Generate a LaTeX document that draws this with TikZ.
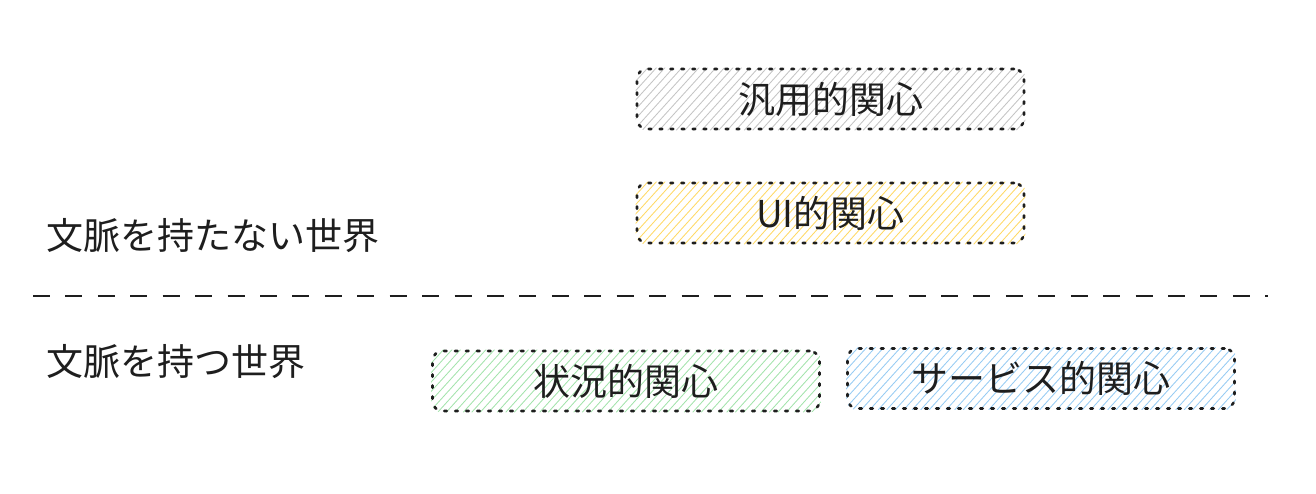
\documentclass[tikz,border=0pt]{standalone}
\usepackage{fontspec}
\newfontfamily\jp{Noto Sans CJK JP}
\usetikzlibrary{calc}
\definecolor{ink}{HTML}{1E1E1E}
\definecolor{hgray}{HTML}{C4C4C4}
\definecolor{hyellow}{HTML}{FFD966}
\definecolor{hgreen}{HTML}{A3E3AC}
\definecolor{hblue}{HTML}{96CBF3}
\tikzset{
  concern/.style={rounded corners=10pt, draw=ink, line width=2.6pt,
    dash pattern=on 2.5pt off 8.5pt, line cap=round,
    minimum width=387pt, minimum height=60pt, inner sep=0pt,
    text=ink, font=\jp\fontsize{37}{42}\selectfont},
  hatchline/.style={line width=0.85pt, draw=#1},
  world/.style={anchor=west, inner sep=0pt, text=ink, font=\jp\fontsize{37}{42}\selectfont}
}
\newcommand{\hatchbox}[2]{%
  \begin{scope}
    \clip[rounded corners=10pt] (#1.south west) rectangle (#1.north east);
    \foreach \i in {-70,-61.5,...,400}
      \draw[hatchline=#2] ($(#1.south west)+(\i,0)$) -- ++(58,-64);
  \end{scope}}
\begin{document}
\begin{tikzpicture}[x=1pt,y=-1pt]
\useasboundingbox (0,0) rectangle (1316,494);
\node[concern, draw=none] (generic) at (830.5,99) {};
\node[concern, draw=none] (ui) at (830.5,213) {};
\node[concern, draw=none] (situ) at (626,381) {};
\node[concern, draw=none] (svc) at (1041,378.5) {};
\hatchbox{generic}{hgray}
\hatchbox{ui}{hyellow}
\hatchbox{situ}{hgreen}
\hatchbox{svc}{hblue}
\node[concern] at (generic) {汎用的関心};
\node[concern] at (ui) {UI的関心};
\node[concern] at (situ) {状況的関心};
\node[concern] at (svc) {サービス的関心};
\node[world] (noctx) at (46,236) {文脈を持たない世界};
\node[world] (ctx) at (46,362) {文脈を持つ世界};
\coordinate (lineL) at (33,296);
\coordinate (lineR) at (1267.5,296);
\draw[ink, line width=2.6pt, dash pattern=on 17pt off 15.43pt] (lineL) -- (lineR);
\end{tikzpicture}
\end{document}
